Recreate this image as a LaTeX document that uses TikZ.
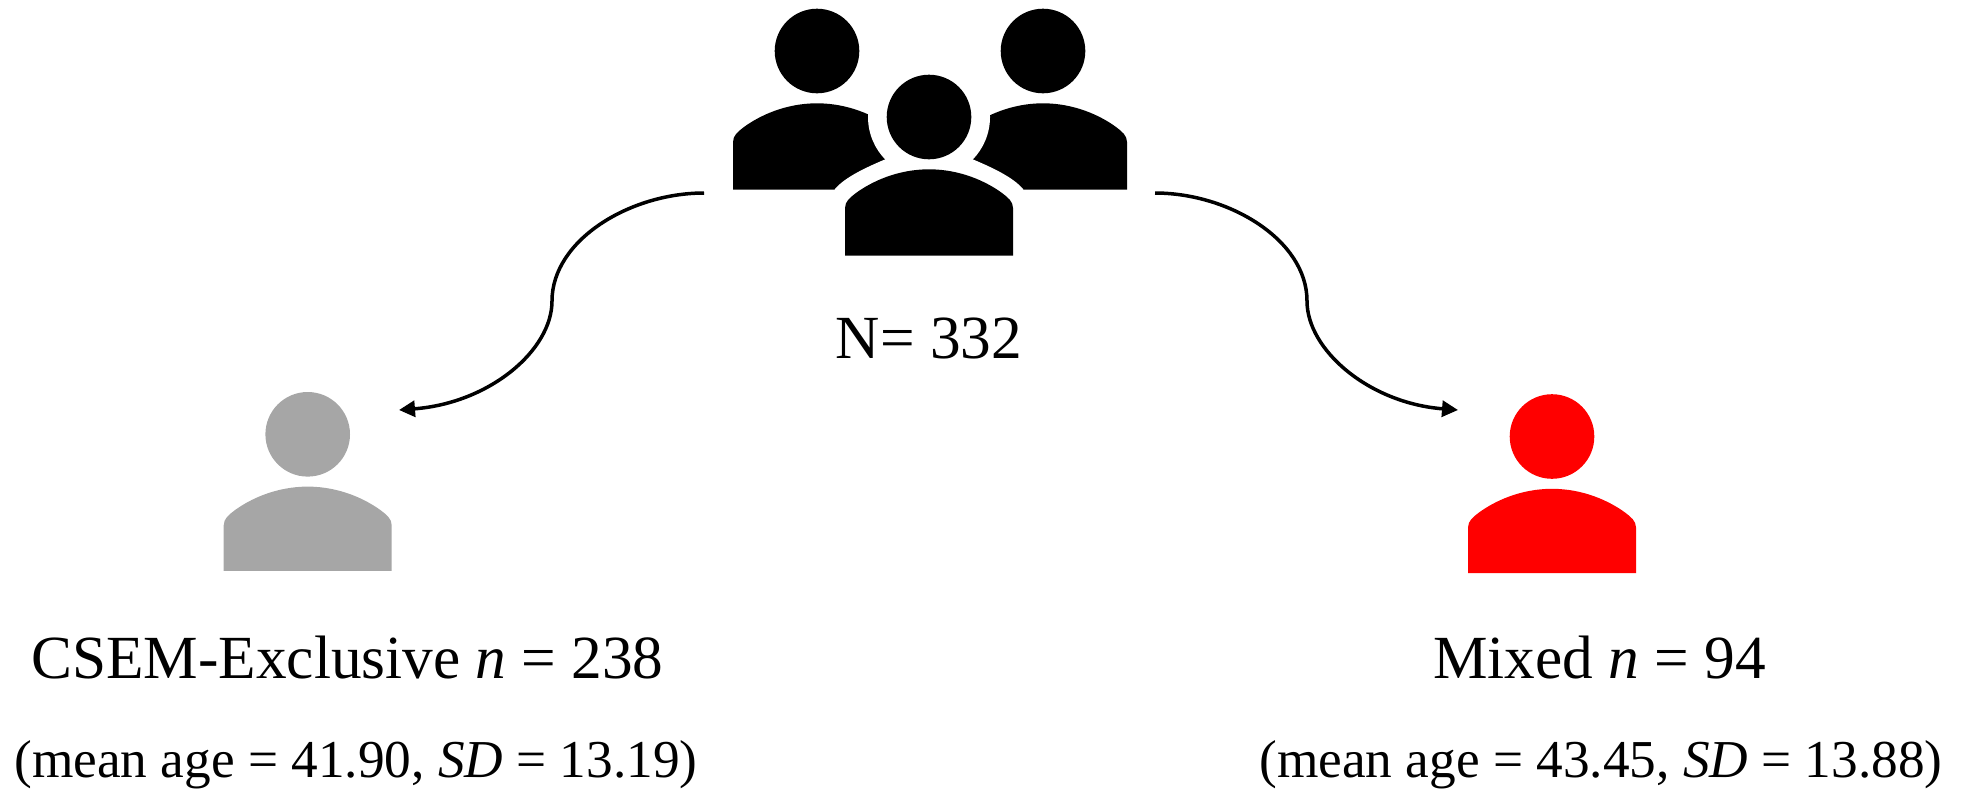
\documentclass[tikz,border=0pt]{standalone}
\usepackage{fontspec}
\setmainfont{Liberation Serif}
\usetikzlibrary{arrows.meta}
\def\pbot{136.5}
\tikzset{
  x=1pt,y=-1pt,
  label text/.style={inner sep=0pt,anchor=base,text=black},
  big text/.style={label text,font=\fontsize{61.3}{61.3}\selectfont},
  small text/.style={label text,font=\fontsize{53.3}{53.3}\selectfont},
  connector/.style={line width=3.5pt,-{Triangle[length=16pt,width=16pt]}},
  person/.pic={
    \fill[pic actions] (0,0) circle[radius=42.3];
    \fill[pic actions] (-84,\pbot) -- (-84,91) .. controls (-84,84.5) and (-79,80.5) .. (-73,76)
      .. controls (-58,65) and (-32,52.3) .. (0,52.3)
      .. controls (32,52.3) and (58,65) .. (73,76)
      .. controls (79,80.5) and (84,84.5) .. (84,91) -- (84,\pbot) -- cycle;
  },
  halo/.pic={
    \fill[white] (0,0) circle[radius=61];
    \fill[white] (-100,85) -- (-94,72) .. controls (-84,60) and (-62,50) .. (-43,42) -- (0,0)
      -- (43,42) .. controls (62,50) and (84,60) .. (94,72) -- (100,85) -- cycle;
  },
}
\definecolor{grayperson}{RGB}{166,166,166}
\definecolor{redperson}{RGB}{255,0,0}
\begin{document}
\begin{tikzpicture}
\useasboundingbox (0,0) rectangle (1961,788);
% group icon
\def\pbot{138.5}
\pic[black] at (817,51) {person};
\pic[black] at (1043,51) {person};
\pic at (929,117) {halo};
\pic[black] at (929,117) {person};
% single icons
\def\pbot{136.5}
\pic[grayperson] at (307.7,434.3) {person};
\pic[redperson] at (1552,436.5) {person};
% labels
\node[big text] (total) at (929,358) {N= 332};
\node[big text] (lefta) at (347.5,678) {CSEM-Exclusive \textit{n} = 238};
\node[small text] (leftb) at (356,777) {(mean age = 41.90, \textit{SD} = 13.19)};
\node[big text] (righta) at (1599.5,678) {Mixed \textit{n} = 94};
\node[small text] (rightb) at (1601,777) {(mean age = 43.45, \textit{SD} = 13.88)};
% connectors
\coordinate (ltail) at (704,193);
\coordinate (lmid) at (552,301);
\coordinate (lhead) at (399,410);
\coordinate (rtail) at (1155,193);
\coordinate (rmid) at (1307,301);
\coordinate (rhead) at (1458,410);
\draw[connector] (ltail) .. controls (630,193) and (552,240) .. (lmid)
  .. controls (552,350) and (490,403) .. (lhead);
\draw[connector] (rtail) .. controls (1229,193) and (1307,240) .. (rmid)
  .. controls (1307,350) and (1369,403) .. (rhead);
\end{tikzpicture}
\end{document}
